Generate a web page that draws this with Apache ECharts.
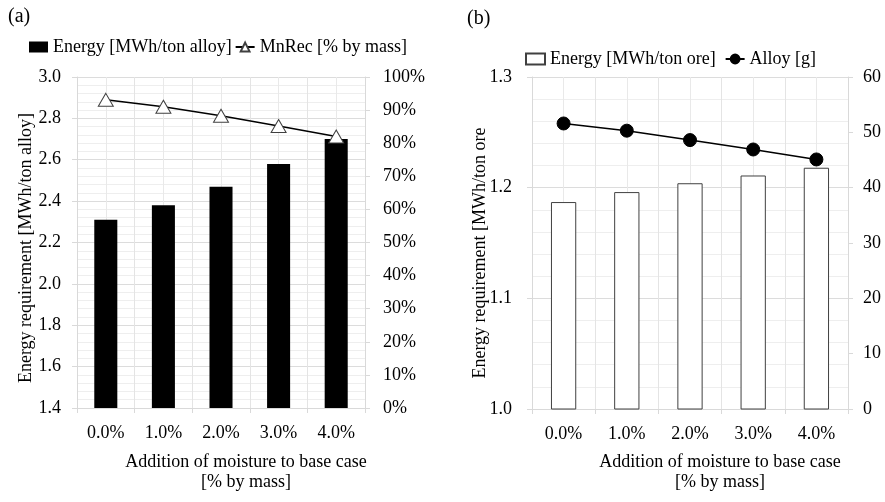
<!DOCTYPE html>
<html>
<head>
<meta charset="utf-8">
<script src="https://cdn.jsdelivr.net/npm/echarts@6/dist/echarts.min.js"></script>
<style>
html,body{margin:0;padding:0;background:#fff;}
#chart{width:885px;height:502px;}
</style>
</head>
<body>
<div id="chart"></div>
<script>
var categories = ['0.0%', '1.0%', '2.0%', '3.0%', '4.0%'];
var energyAlloy = [2.31, 2.38, 2.47, 2.58, 2.70];
var mnRec = [0.931, 0.910, 0.883, 0.852, 0.820];
var energyOre = [1.187, 1.196, 1.204, 1.211, 1.218];
var alloyG = [51.6, 50.3, 48.6, 46.9, 45.1];

var FONT = 'Liberation Serif';
var FS = 18;
var AX = '#d9d9d9';
var MINOR = '#eeeeee';

var chart = echarts.init(document.getElementById('chart'), null, {renderer: 'canvas'});

function catAxis(gi) {
  return {
    type: 'category', gridIndex: gi, data: categories,
    axisLine: {lineStyle: {color: AX}},
    axisTick: {show: true, length: 5, lineStyle: {color: AX}},
    axisLabel: {color: '#000', fontFamily: FONT, fontSize: FS, margin: 16},
    splitLine: {show: false}
  };
}
function gridXAxis(gi) {
  return {
    type: 'value', gridIndex: gi, min: 0, max: 5, interval: 1,
    axisLine: {show: false}, axisTick: {show: false}, axisLabel: {show: false},
    splitLine: {show: true, lineStyle: {color: '#e4e4e4'}},
    minorSplitLine: {show: true, lineStyle: {color: '#e9e9e9'}},
    minorTick: {show: false, splitNumber: 2}
  };
}

var option = {
  animation: false,
  backgroundColor: '#fff',
  legend: [
    {
      left: 29, top: 38, padding: 0, itemWidth: 19, itemHeight: 11, itemGap: 3,
      textStyle: {fontFamily: FONT, fontSize: FS, color: '#000'},
      data: [{name: 'Energy [MWh/ton alloy]', icon: 'rect'}, {name: 'MnRec [% by mass]'}]
    },
    {
      left: 525, top: 50, padding: 0, itemWidth: 19, itemHeight: 11, itemGap: 9,
      textStyle: {fontFamily: FONT, fontSize: FS, color: '#000'},
      data: [{name: 'Energy [MWh/ton ore]', icon: 'rect'}, {name: 'Alloy [g]'}]
    }
  ],
  grid: [
    {left: 77, right: 520, top: 77, bottom: 94},
    {left: 532, right: 37, top: 77, bottom: 93}
  ],
  xAxis: [catAxis(0), catAxis(1), gridXAxis(0), gridXAxis(1)],
  yAxis: [
    {
      type: 'value', gridIndex: 0, min: 1.4, max: 3.0, interval: 0.2, position: 'left',
      axisLine: {show: true, lineStyle: {color: AX}},
      axisTick: {show: true, length: 5, lineStyle: {color: AX}},
      axisLabel: {color: '#000', fontFamily: FONT, fontSize: FS, margin: 16,
        formatter: function (v) { return v.toFixed(1); }},
      splitLine: {show: true, lineStyle: {color: '#dcdcdc'}},
      minorTick: {show: false, splitNumber: 5},
      minorSplitLine: {show: true, lineStyle: {color: MINOR}}
    },
    {
      type: 'value', gridIndex: 0, min: 0, max: 1, interval: 0.1, position: 'right',
      axisLine: {show: true, lineStyle: {color: AX}},
      axisTick: {show: true, length: 5, lineStyle: {color: AX}},
      axisLabel: {color: '#000', fontFamily: FONT, fontSize: FS, margin: 18,
        formatter: function (v) { return Math.round(v * 100) + '%'; }},
      splitLine: {show: false}
    },
    {
      type: 'value', gridIndex: 1, min: 1.0, max: 1.3, interval: 0.1, position: 'left',
      axisLine: {show: true, lineStyle: {color: AX}},
      axisTick: {show: true, length: 5, lineStyle: {color: AX}},
      axisLabel: {color: '#000', fontFamily: FONT, fontSize: FS, margin: 20,
        formatter: function (v) { return v.toFixed(1); }},
      splitLine: {show: true, lineStyle: {color: '#dcdcdc'}},
      minorTick: {show: false, splitNumber: 5},
      minorSplitLine: {show: true, lineStyle: {color: MINOR}}
    },
    {
      type: 'value', gridIndex: 1, min: 0, max: 60, interval: 10, position: 'right',
      axisLine: {show: true, lineStyle: {color: AX}},
      axisTick: {show: true, length: 5, lineStyle: {color: AX}},
      axisLabel: {color: '#000', fontFamily: FONT, fontSize: FS, margin: 15},
      splitLine: {show: false}
    }
  ],
  series: [
    {
      name: 'Energy [MWh/ton alloy]', type: 'bar', xAxisIndex: 0, yAxisIndex: 0,
      data: energyAlloy, barWidth: '40%', itemStyle: {color: '#000'}
    },
    {
      name: 'MnRec [% by mass]', type: 'line', xAxisIndex: 0, yAxisIndex: 1,
      data: mnRec, symbol: 'triangle', symbolSize: [15, 13],
      lineStyle: {color: '#000', width: 1.5},
      itemStyle: {color: '#fff', borderColor: '#404040', borderWidth: 1}
    },
    {
      name: 'Energy [MWh/ton ore]', type: 'bar', xAxisIndex: 1, yAxisIndex: 2,
      data: energyOre, barWidth: '40%',
      itemStyle: {color: '#fff', borderColor: '#404040', borderWidth: 1}
    },
    {
      name: 'Alloy [g]', type: 'line', xAxisIndex: 1, yAxisIndex: 3,
      data: alloyG, symbol: 'circle', symbolSize: 13,
      lineStyle: {color: '#000', width: 1.5},
      itemStyle: {color: '#000', borderColor: '#000', borderWidth: 1}
    }
  ],
  graphic: [
    {type: 'text', left: 8, top: 7, style: {text: '(a)', font: '20px "Liberation Serif"', fill: '#000'}},
    {type: 'text', left: 467, top: 9, style: {text: '(b)', font: '20px "Liberation Serif"', fill: '#000'}},
    {type: 'text', x: 246, y: 462, style: {text: 'Addition of moisture to base case', font: '18px "Liberation Serif"', fill: '#000', textAlign: 'center', textVerticalAlign: 'middle'}},
    {type: 'text', x: 246, y: 482, style: {text: '[% by mass]', font: '18px "Liberation Serif"', fill: '#000', textAlign: 'center', textVerticalAlign: 'middle'}},
    {type: 'text', x: 720, y: 462, style: {text: 'Addition of moisture to base case', font: '18px "Liberation Serif"', fill: '#000', textAlign: 'center', textVerticalAlign: 'middle'}},
    {type: 'text', x: 720, y: 482, style: {text: '[% by mass]', font: '18px "Liberation Serif"', fill: '#000', textAlign: 'center', textVerticalAlign: 'middle'}},
    {type: 'text', x: 26, y: 248, rotation: Math.PI / 2, style: {text: 'Energy requirement [MWh/ton alloy]', font: '18px "Liberation Serif"', fill: '#000', textAlign: 'center', textVerticalAlign: 'middle'}},
    {type: 'text', x: 480, y: 253, rotation: Math.PI / 2, style: {text: 'Energy requirement [MWh/ton ore', font: '18px "Liberation Serif"', fill: '#000', textAlign: 'center', textVerticalAlign: 'middle'}}
  ]
};
chart.setOption(option);
</script>
</body>
</html>
